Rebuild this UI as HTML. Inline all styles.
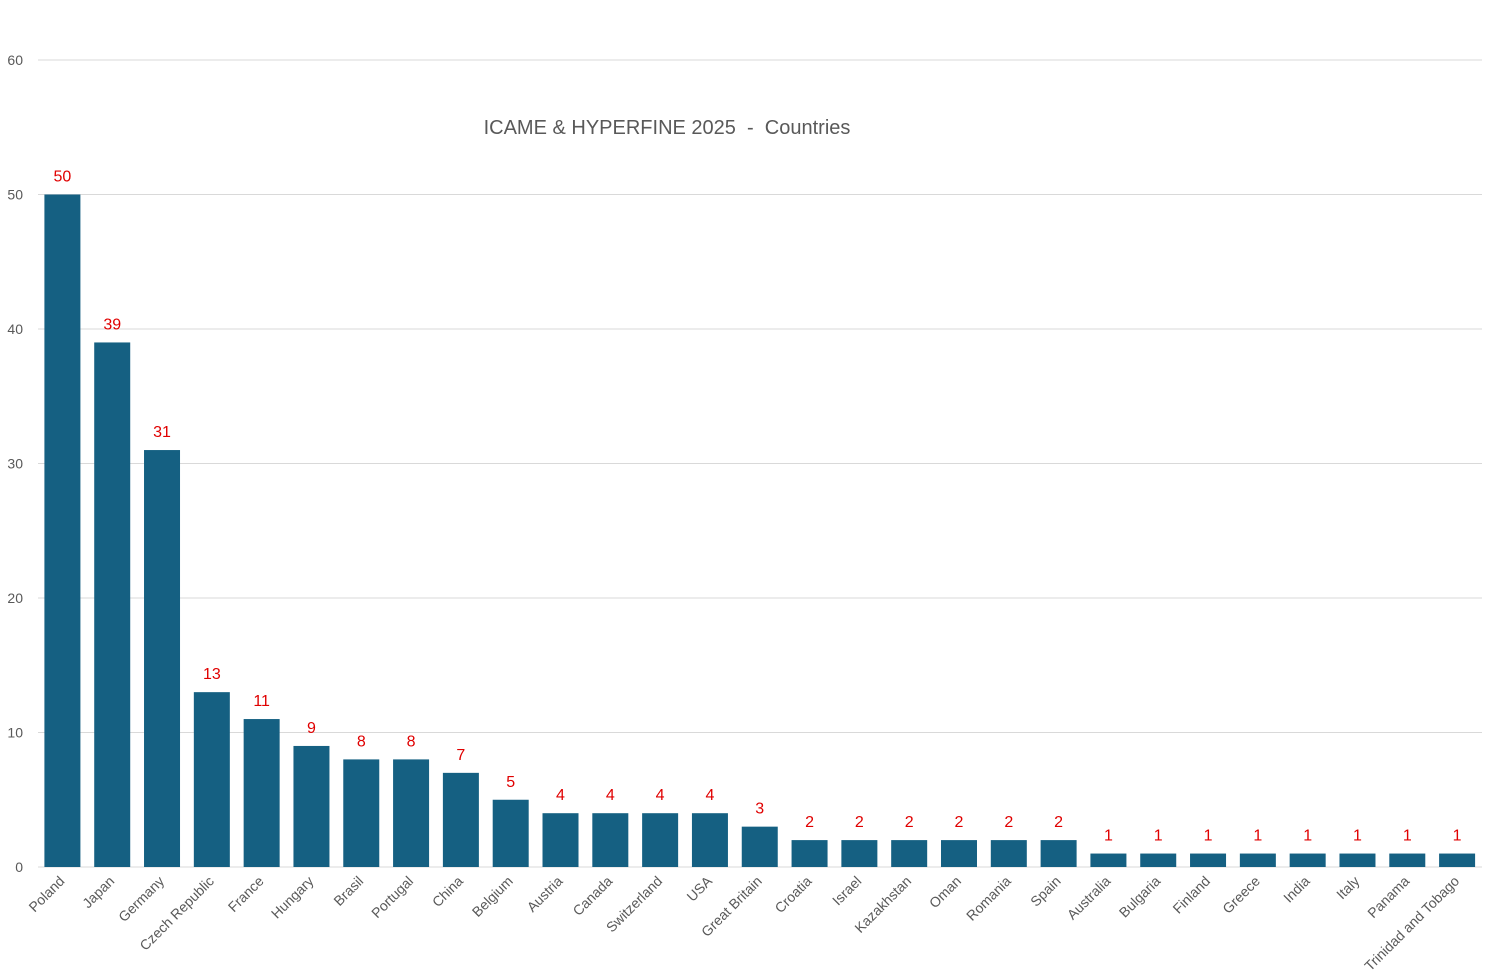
<!DOCTYPE html>
<html><head><meta charset="utf-8"><style>
body{margin:0;background:#fff;}
svg{display:block;font-family:"Liberation Sans",sans-serif;}
</style></head><body>
<svg id="chart" width="1487" height="979">
<text x="667" y="134" text-anchor="middle" font-size="20" fill="#595959" style="white-space:pre" xml:space="preserve">ICAME &amp; HYPERFINE 2025  -  Countries</text>
<g id="grid"></g><g id="bars"></g><g id="labels"></g><g id="xlabels"></g>
</svg>
<script>
const categories=["Poland","Japan","Germany","Czech Republic","France","Hungary","Brasil","Portugal","China","Belgium","Austria","Canada","Switzerland","USA","Great Britain","Croatia","Israel","Kazakhstan","Oman","Romania","Spain","Australia","Bulgaria","Finland","Greece","India","Italy","Panama","Trinidad and Tobago"];
const values=[50,39,31,13,11,9,8,8,7,5,4,4,4,4,3,2,2,2,2,2,2,1,1,1,1,1,1,1,1];
const yTicks=[0,10,20,30,40,50,60];
const NS="http://www.w3.org/2000/svg";
const x0=37.5,x1=1482,y0=867,yTop=60,yMax=60;
const band=(x1-x0)/categories.length;
const y=v=>y0-(v/yMax)*(y0-yTop);
const xc=i=>x0+band*(i+0.5);
function mk(t,a,p){const e=document.createElementNS(NS,t);for(const k in a)e.setAttribute(k,a[k]);p.appendChild(e);return e;}
const grid=document.getElementById('grid');
yTicks.forEach(t=>{
  const l=mk('line',{x1:38,x2:1482,y1:y(t),y2:y(t),stroke:'#d9d9d9','stroke-width':1},grid);
  
  
  const tx=mk('text',{x:23,y:y(t)+5,'text-anchor':'end','font-size':14,fill:'#595959'},grid);
  tx.textContent=t;
  
  
});
const bw=36;
categories.forEach((c,i)=>{
  const b=mk('rect',{x:xc(i)-bw/2,y:y(values[i]),width:bw,height:y0-y(values[i]),fill:'#156082'},document.getElementById('bars'));
  
  
  const lb=mk('text',{x:xc(i),y:y(values[i])-13,'text-anchor':'middle','font-size':16,fill:'#e00000'},document.getElementById('labels'));
  lb.textContent=values[i];
  
  
  const xl=mk('text',{x:0,y:0,'text-anchor':'end','font-size':14,fill:'#595959',transform:`translate(${xc(i)+3},${y0+15}) rotate(-45)`},document.getElementById('xlabels'));
  xl.textContent=c;
  
  
});
</script>
</body></html>
